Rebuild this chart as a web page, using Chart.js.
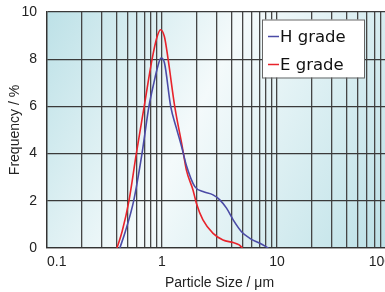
<!DOCTYPE html>
<html><head><meta charset="utf-8">
<script src="https://cdn.jsdelivr.net/npm/chart.js@4.4.0/dist/chart.umd.min.js"></script>
<style>
html,body{margin:0;padding:0;overflow:hidden;background:#fff;width:385px;height:292px}
canvas{display:block}
</style></head>
<body>
<canvas id="c" width="392" height="292"></canvas>
<script>
// ---- data ----
const seriesNames = ['H grade', 'E grade'];
const hSize = [0.43, 0.48, 0.567, 0.67, 0.77, 0.85, 0.92, 0.98, 1.05, 1.19, 1.33, 1.48, 1.63, 1.93, 2.27, 2.78, 3.18, 3.64, 4.16, 4.91, 5.8, 7.1, 8.4];
const hFreq = [0, 0.7, 2.0, 4.0, 6.0, 7.0, 7.7, 8.05, 7.85, 6.0, 5.1, 4.3, 3.5, 2.6, 2.39, 2.25, 2.04, 1.69, 1.19, 0.69, 0.41, 0.2, 0];
const eSize = [0.406, 0.45, 0.516, 0.598, 0.70, 0.82, 0.90, 0.97, 1.05, 1.13, 1.29, 1.50, 1.63, 1.86, 1.99, 2.27, 2.78, 3.39, 4.16, 4.69, 5.0];
const eFreq = [0, 0.7, 2.0, 4.0, 6.0, 8.0, 8.9, 9.25, 8.95, 8.0, 6.0, 4.3, 3.3, 2.46, 1.9, 1.19, 0.62, 0.34, 0.23, 0.13, 0];
const xTickLabels = ['0.1', '1', '10', '100'];
const xDecades = [0.1, 1, 10];
const yTicks = [0, 2, 4, 6, 8, 10];

const toPts = (xs, ys) => xs.map((x, i) => ({x: x, y: ys[i]}));
const labelValues = xTickLabels.map(Number);
const gridValues = [];
xDecades.forEach(d => { for (let k = 1; k <= 9; k++) gridValues.push(k * d); });
gridValues.push(labelValues[labelValues.length - 1]);

const bgPlugin = {
  id: 'bgGrad',
  beforeDraw(chart) {
    const a = chart.chartArea, ctx = chart.ctx;
    const g = ctx.createLinearGradient(a.left, a.top, a.left + 363, a.top + 185);
    g.addColorStop(0, '#bde1e7');
    g.addColorStop(0.44, '#f4fafb');
    g.addColorStop(1, '#bde1e7');
    ctx.save();
    ctx.fillStyle = g;
    ctx.fillRect(a.left, a.top, a.right - a.left, a.bottom - a.top);
    ctx.restore();
  }
};

const legendPlugin = {
  id: 'boxLegend',
  afterDraw(chart) {
    const a = chart.chartArea, ctx = chart.ctx;
    const x = a.left + 215, y = a.top + 7.5, w = 102, h = 58;
    ctx.save();
    ctx.fillStyle = '#ffffff';
    ctx.fillRect(x, y, w, h);
    ctx.strokeStyle = '#666';
    ctx.lineWidth = 1;
    ctx.strokeRect(x + 0.5, y + 0.5, w, h);
    ctx.font = '16.5px "DejaVu Sans"';
    ctx.textBaseline = 'middle';
    chart.data.datasets.forEach((ds, i) => {
      const cy = y + 17 + i * 28;
      ctx.strokeStyle = ds.borderColor;
      ctx.lineWidth = 1.5;
      ctx.beginPath();
      ctx.moveTo(x + 6, cy);
      ctx.lineTo(x + 17, cy);
      ctx.stroke();
      ctx.fillStyle = '#111';
      ctx.fillText(ds.label, x + 18, cy + 1);
    });
    ctx.restore();
  }
};

new Chart(document.getElementById('c'), {
  type: 'line',
  data: {
    datasets: [
      {label: seriesNames[0], data: toPts(hSize, hFreq), borderColor: '#4b4ba6', borderWidth: 1.6,
       pointRadius: 0, cubicInterpolationMode: 'monotone', fill: false},
      {label: seriesNames[1], data: toPts(eSize, eFreq), borderColor: '#e8232b', borderWidth: 1.6,
       pointRadius: 0, cubicInterpolationMode: 'monotone', fill: false}
    ]
  },
  options: {
    responsive: false,
    animation: false,
    devicePixelRatio: 1,
    layout: {padding: {top: 12, right: 0, bottom: 0, left: 0}},
    plugins: {legend: {display: false}, tooltip: {enabled: false}},
    scales: {
      x: {
        type: 'logarithmic',
        min: gridValues[0],
        max: gridValues[gridValues.length - 1],
        afterBuildTicks: s => { s.ticks = gridValues.map(v => ({value: v})); },
        afterFit: s => { s.height = 44; s.paddingLeft = 0; s.paddingRight = 0; },
        ticks: {
          autoSkip: false, maxRotation: 0, align: 'inner', padding: 6,
          color: '#222', font: {family: '"Liberation Sans", Arial', size: 14},
          callback: v => {
            const i = labelValues.findIndex(l => Math.abs(l - v) < 1e-9);
            return i >= 0 ? xTickLabels[i] : '';
          }
        },
        grid: {color: '#454545', lineWidth: 1.3, drawTicks: false},
        border: {display: true, color: '#333', width: 1.3},
        title: {display: true, text: 'Particle Size / μm', color: '#222',
                font: {family: '"Liberation Sans", Arial', size: 14}, padding: {top: 2, bottom: 0}}
      },
      y: {
        min: 0, max: 10,
        afterBuildTicks: s => { s.ticks = yTicks.map(v => ({value: v})); },
        afterFit: s => { s.width = 47; s.paddingTop = 0; s.paddingBottom = 0; },
        ticks: {padding: 10, color: '#222', font: {family: '"Liberation Sans", Arial', size: 14}},
        grid: {color: '#3a3a3a', lineWidth: 1.3, drawTicks: false},
        border: {display: true, color: '#333', width: 1.3},
        title: {display: true, text: 'Frequency / %', color: '#222',
                font: {family: '"Liberation Sans", Arial', size: 14}, padding: {top: 7, bottom: 0}}
      }
    }
  },
  plugins: [bgPlugin, legendPlugin]
});
</script>
</body></html>
